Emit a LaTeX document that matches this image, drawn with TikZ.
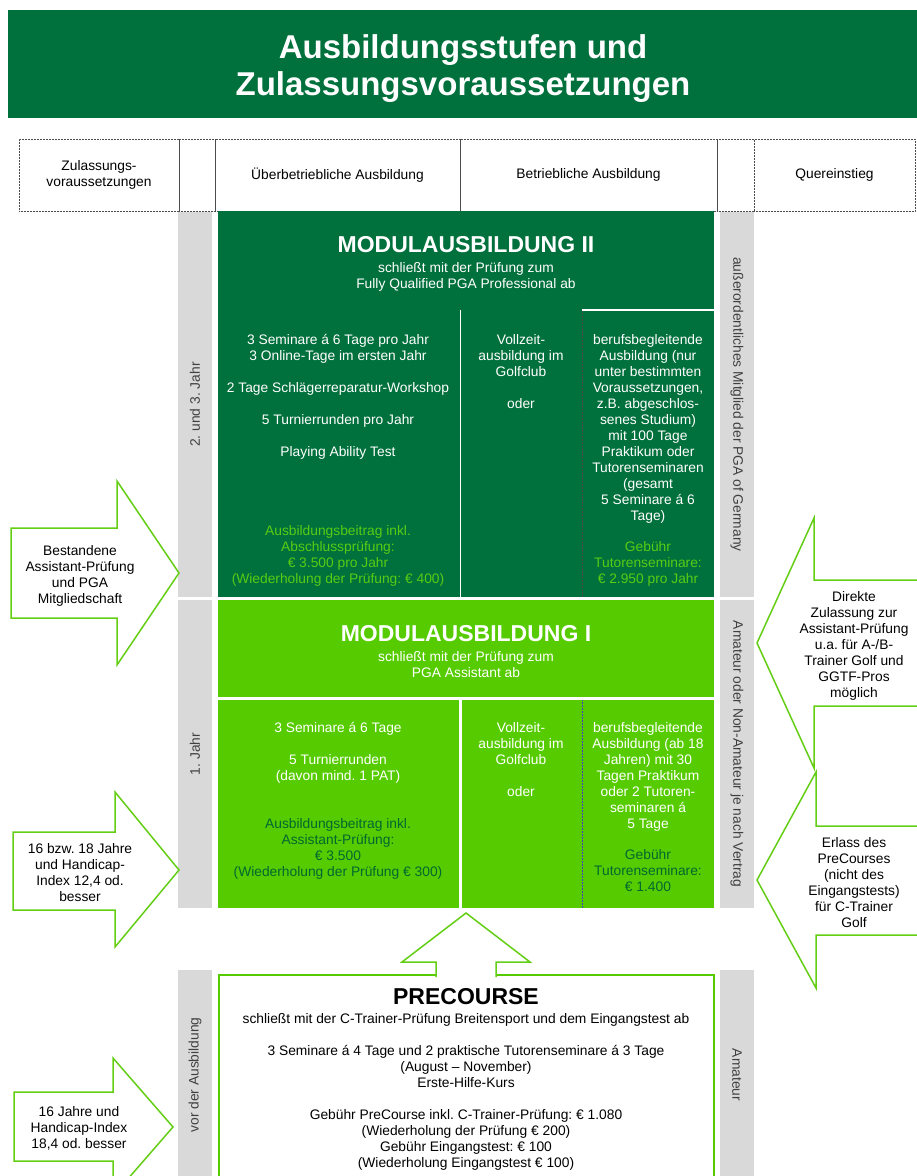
\documentclass[tikz,border=0pt]{standalone}
\usepackage{fontspec}
\setmainfont{Liberation Sans}
\usepackage{tikz}

\definecolor{pgadark}{RGB}{0,112,60}
\definecolor{pgalight}{RGB}{86,204,0}
\definecolor{pgagray}{RGB}{217,217,217}
\definecolor{arrowgreen}{RGB}{100,206,20}
\definecolor{feelight}{RGB}{88,204,20}
\definecolor{feedark}{RGB}{0,104,48}

\begin{document}
\frenchspacing
\begin{tikzpicture}[x=1pt, y=-1pt,
  every node/.style={font=\fontsize{13.8}{16}\selectfont, align=center, inner sep=0pt},
  heading/.style={font=\fontsize{33}{37}\selectfont\bfseries, text=white},
  headbox/.style={draw=black!70, densely dotted, line width=0.5pt, minimum height=72pt},
  strip/.style={fill=pgagray, text=black!75, minimum height=34pt},
  modtitle/.style={font=\fontsize{23}{26}\selectfont\bfseries},
  body/.style={anchor=north},
  blockarrow/.style={draw=arrowgreen, line width=1.5pt, fill=white}]
\useasboundingbox[fill=white] (0,0) rectangle (917,1176);

% title bar
\fill[pgadark] (8,10) rectangle (917,118);
\node[heading, anchor=north] (title) at (463,34) {Ausbildungsstufen und\\Zulassungsvoraussetzungen};

% column heads
\node[headbox, minimum width=160pt] (hzul) at (99,175) {Zulassungs-\\voraussetzungen};
\node[headbox, minimum width=36pt] (hgapl) at (197,175) {};
\node[headbox, minimum width=245pt] (hueber) at (337.5,175) {Überbetriebliche Ausbildung};
\node[headbox, minimum width=257pt] (hbetr) at (588.5,175) {Betriebliche Ausbildung};
\node[headbox, minimum width=37pt] (hgapr) at (735.5,175) {};
\node[headbox, minimum width=161pt] (hquer) at (834.5,175) {Quereinstieg};

% grey side strips
\node[strip, rotate=90, minimum width=385pt] (yr23) at (195,404.5) {2. und 3. Jahr};
\node[strip, rotate=90, minimum width=308pt] (yr1) at (195,754) {1. Jahr};
\node[strip, rotate=90, minimum width=210pt] (yr0) at (195,1075) {vor der Ausbildung};
\node[strip, rotate=-90, minimum width=385pt] (pgamem) at (737,404.5) {außerordentliches Mitglied der PGA of Germany};
\node[strip, rotate=-90, minimum width=308pt] (amnon) at (737,754) {Amateur oder Non-Amateur je nach Vertrag};
\node[strip, rotate=-90, minimum width=210pt] (amat) at (737,1075) {Amateur};

% Modulausbildung II
\fill[pgadark] (218,211) rectangle (714,597);
\draw[white, line width=1.5pt] (582,310) -- (714,310);
\draw[white, line width=0.6pt] (460,310) -- (460,597);
\draw[black!70, densely dotted, line width=0.5pt] (582,311) -- (582,597);
\node[modtitle, text=white] (m2title) at (466,245) {MODULAUSBILDUNG II};
\node[body, text=white] (m2sub) at (466,262) {schließt mit der Prüfung zum\\Fully Qualified PGA Professional ab};
\node[body, text=white] (m2sem) at (338,334) {3 Seminare á 6 Tage pro Jahr\\3 Online-Tage im ersten Jahr\\[16pt]2 Tage Schlägerreparatur-Workshop\\[16pt]5 Turnierrunden pro Jahr\\[16pt]Playing Ability Test};
\node[body, text=feelight] (m2fee) at (338,525) {Ausbildungsbeitrag inkl.\\Abschlussprüfung:\\€ 3.500 pro Jahr\\(Wiederholung der Prüfung: € 400)};
\node[body, text=white] (m2voll) at (521,334) {Vollzeit-\\ausbildung im\\Golfclub\\[16pt]oder};
\node[body, text=white] (m2beruf) at (648,334) {berufsbegleitende\\Ausbildung (nur\\unter bestimmten\\Voraussetzungen,\\z.B. abgeschlos-\\senes Studium)\\mit 100 Tage\\Praktikum oder\\Tutorenseminaren\\(gesamt\\5 Seminare á 6\\Tage)};
\node[body, text=feelight] (m2tut) at (648,541) {Gebühr\\Tutorenseminare:\\€ 2.950 pro Jahr};

% Modulausbildung I
\fill[pgalight] (218,600) rectangle (714,697);
\fill[pgalight] (218,700) rectangle (459,908);
\fill[pgalight] (462,700) rectangle (714,908);
\draw[blue!45!gray, densely dotted, line width=0.5pt] (582,700) -- (582,908);
\node[modtitle, text=white] (m1title) at (466,634) {MODULAUSBILDUNG I};
\node[body, text=white] (m1sub) at (466,651) {schließt mit der Prüfung zum\\PGA Assistant ab};
\node[body, text=white] (m1sem) at (338,722) {3 Seminare á 6 Tage\\[16pt]5 Turnierrunden\\(davon mind. 1 PAT)};
\node[body, text=feedark] (m1fee) at (338,818) {Ausbildungsbeitrag inkl.\\Assistant-Prüfung:\\€ 3.500\\(Wiederholung der Prüfung € 300)};
\node[body, text=white] (m1voll) at (521,722) {Vollzeit-\\ausbildung im\\Golfclub\\[16pt]oder};
\node[body, text=white] (m1beruf) at (648,722) {berufsbegleitende\\Ausbildung (ab 18\\Jahren) mit 30\\Tagen Praktikum\\oder 2 Tutoren-\\seminaren á\\5 Tage};
\node[body, text=feedark] (m1tut) at (648,849) {Gebühr\\Tutorenseminare:\\€ 1.400};

% PreCourse
\draw[pgalight, line width=1.5pt, fill=white] (219,975) rectangle (714,1190);
\path[blockarrow] (436,977) -- (436,962) -- (402,962) -- (466,913) -- (530,962) -- (496,962) -- (496,977);
\node[modtitle] (pretitle) at (466,997) {PRECOURSE};
\node[body] (presub) at (466,1013) {schließt mit der C-Trainer-Prüfung Breitensport und dem Eingangstest ab\\[16pt]3 Seminare á 4 Tage und 2 praktische Tutorenseminare á 3 Tage\\(August – November)\\Erste-Hilfe-Kurs\\[16pt]Gebühr PreCourse inkl. C-Trainer-Prüfung: € 1.080\\(Wiederholung der Prüfung € 200)\\Gebühr Eingangstest: € 100\\(Wiederholung Eingangstest € 100)};

% entry arrows, left
\draw[blockarrow] (11,528) -- (117,528) -- (117,481) -- (179,573) -- (117,665) -- (117,618) -- (11,618) -- cycle;
\draw[blockarrow] (13,832) -- (115,832) -- (115,792) -- (179,870) -- (115,947) -- (115,910) -- (13,910) -- cycle;
\draw[blockarrow] (14,1092) -- (113,1092) -- (113,1058) -- (173,1127) -- (113,1196) -- (113,1161) -- (14,1161) -- cycle;
\node[body] (bestanden) at (80,545) {Bestandene\\Assistant-Prüfung\\und PGA\\Mitgliedschaft};
\node[body] (alter1) at (80,843) {16 bzw. 18 Jahre\\und Handicap-\\Index 12,4 od.\\besser};
\node[body] (alter0) at (79,1106) {16 Jahre und\\Handicap-Index\\18,4 od. besser};

% side entry arrows, right
\path[blockarrow] (930,580) -- (814,580) -- (814,518) -- (757,643) -- (814,768) -- (814,706) -- (930,706);
\path[blockarrow] (930,826) -- (816,826) -- (816,772) -- (757,880) -- (816,988) -- (816,935) -- (930,935);
\node[body] (direkt) at (854,591) {Direkte\\Zulassung zur\\Assistant-Prüfung\\u.a. für A-/B-\\Trainer Golf und\\GGTF-Pros\\möglich};
\node[body] (erlass) at (854,837) {Erlass des\\PreCourses\\(nicht des\\Eingangstests)\\für C-Trainer\\Golf};
\end{tikzpicture}
\end{document}
